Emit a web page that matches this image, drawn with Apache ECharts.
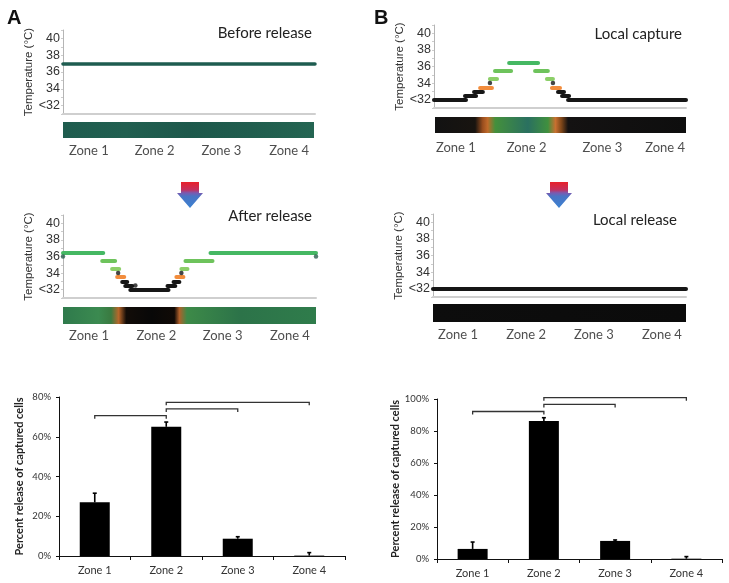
<!DOCTYPE html>
<html><head><meta charset="utf-8">
<script src="https://cdn.jsdelivr.net/npm/echarts@6/dist/echarts.min.js"></script>
<style>html,body{margin:0;padding:0;background:#fff}#c{width:729px;height:583px}</style>
</head><body><div id="c"></div>
<script>
// ---------- data ----------
const zones = ['Zone 1', 'Zone 2', 'Zone 3', 'Zone 4'];
// temperature steps: [xStart, xEnd, temperature °C, colour key]; x = % of channel length
const stepsBefore = [[0, 100, 37, 'teal']];
const stepsAfter = [
  [0, 15.9, 36.5, 'g3'], [15.5, 20.6, 35.5, 'g2'], [19.4, 22.2, 34.5, 'g1'], [21.4, 24.2, 33.5, 'o'],
  [23.4, 25.4, 33, 'k'], [24.6, 27.4, 32.5, 'k'], [26.6, 41.7, 32, 'k'], [41.3, 44.4, 32.5, 'k'],
  [43.7, 46.0, 33, 'k'], [44.8, 47.6, 33.5, 'o'], [46.8, 49.2, 34.5, 'g1'], [48.4, 59.1, 35.5, 'g2'],
  [58.3, 100, 36.5, 'g3']
];
const dotsAfter = [[0, 36, 'd'], [21.8, 34, 'k'], [28.6, 32.5, 'k'], [46.8, 34, 'k'], [100, 36, 'd']];
const stepsCapture = [
  [0, 12.7, 32, 'k'], [12.3, 16.7, 32.5, 'k'], [15.9, 19.4, 33, 'k'], [18.3, 23.0, 33.5, 'o'],
  [22.2, 25.0, 34.5, 'g1'], [24.2, 30.6, 35.5, 'g2'], [29.8, 41.3, 36.5, 'g3'], [40.1, 45.2, 35.5, 'g2'],
  [44.8, 47.2, 34.5, 'g1'], [46.8, 50.0, 33.5, 'o'], [49.2, 51.6, 33, 'k'], [50.8, 53.6, 32.5, 'k'],
  [53.2, 100, 32, 'k']
];
const dotsCapture = [[22.2, 34, 'k'], [47.2, 34, 'k']];
const stepsLocalRelease = [[0, 100, 32, 'k']];
// zone label positions along channel (% of length)
const zonePosBefore = [10.3, 36.5, 63.1, 90.1];
const zonePosAfter = [10.3, 36.9, 63.1, 89.7];
const zonePosCapture = [8.3, 36.5, 66.7, 91.7];
const zonePosLocalRelease = [9.9, 36.8, 63.6, 90.5];
// fluorescence strip colour stops: [position %, colour]
const stripBefore = [[0, '#1f5c4e'], [25, '#215f50'], [50, '#1d584b'], [75, '#205d4e'], [100, '#246552']];
const stripAfter = [[0, '#2f7a4c'], [14, '#3b8a50'], [19, '#3a7a40'], [22, '#b8662a'], [25, '#120c08'],
  [35, '#080808'], [44, '#100a06'], [46, '#b0602a'], [49, '#3d8a48'], [70, '#2c7349'], [100, '#2f7c4b']];
const stripCapture = [[0, '#121212'], [16, '#181410'], [19, '#9a4e1e'], [21, '#c06a2a'], [24, '#44903c'],
  [37, '#2a7060'], [45, '#40903e'], [48, '#c87030'], [50.5, '#7a4418'], [53, '#141212'], [100, '#0e0e0e']];
const stripLocalRelease = [[0, '#0d0d0d'], [100, '#0b0b0b']];
// bar charts: percent release of captured cells
const releaseA = [27.0, 65.0, 8.7, 0.2];
const errA = [4.6, 2.4, 1.0, 1.5];
const releaseB = [6.3, 86.2, 11.3, 0.2];
const errB = [4.3, 2.1, 0.6, 1.3];
// significance brackets: [fromZoneIdx, toZoneIdx, height %]
const bracketsA = [[0, 1, 70.6], [1, 2, 74.0], [1, 3, 77.3]];
const bracketsB = [[0, 1, 92.2], [1, 2, 96.6], [1, 3, 100.8]];

// ---------- styles ----------
const COL = { teal: '#1e5c50', k: '#161616', o: '#f28c3c', g1: '#8ccf68', g2: '#6ec35c', g3: '#45b863', d: '#2b5d4d' };
const SANS = 'Liberation Sans';
const LATO = 'Lato';

const tempGrids = [
  { left: 63, top: 30, width: 252, height: 84 },   // A before
  { left: 63, top: 215, width: 253, height: 83 },  // A after
  { left: 434, top: 25, width: 252, height: 83 },  // B capture
  { left: 433, top: 214, width: 253, height: 83 }  // B local release
];
const stripGrids = [
  { left: 63, top: 122, width: 251, height: 16 },
  { left: 63, top: 307, width: 253, height: 17 },
  { left: 435, top: 117, width: 251, height: 16 },
  { left: 433, top: 304, width: 253, height: 18 }
];
const barGrids = [
  { left: 59, top: 397, width: 286, height: 159 },
  { left: 437, top: 399, width: 285, height: 160 }
];
const nameGaps = [23, 23, 24, 25];
const zoneLabelOffsets = [-0.81, -0.72, -0.92, -0.72];

const grids = [], xAxes = [], yAxes = [], series = [];
const allSteps = [stepsBefore, stepsAfter, stepsCapture, stepsLocalRelease];
const allDots = [[], dotsAfter, dotsCapture, []];
const allZonePos = [zonePosBefore, zonePosAfter, zonePosCapture, zonePosLocalRelease];
const allStrips = [stripBefore, stripAfter, stripCapture, stripLocalRelease];

for (let i = 0; i < 4; i++) {
  // temperature plot
  const gi = grids.length;
  grids.push(tempGrids[i]);
  xAxes.push({ gridIndex: gi, type: 'value', min: 0, max: 100,
    axisLine: { show: true, onZero: false, lineStyle: { color: '#cfcfcf', width: 2 } },
    axisTick: { show: false }, axisLabel: { show: false }, splitLine: { show: false } });
  yAxes.push({ gridIndex: gi, type: 'value', min: 31, max: 41, interval: 1,
    name: 'Temperature (°C)', nameLocation: 'middle', nameGap: nameGaps[i],
    nameTextStyle: { fontFamily: SANS, fontSize: 11.5, color: '#333' },
    axisLine: { show: true, lineStyle: { color: '#b5b5b5', width: 1 } },
    axisTick: { show: true, length: 2, lineStyle: { color: '#cccccc' } },
    axisLabel: { margin: 3, fontFamily: SANS, fontSize: 12.5, color: '#333',
      formatter: v => v === 32 ? '<32' : ((v % 2 === 0 && v > 32 && v <= 40) ? String(v) : '') },
    splitLine: { show: false } });
  series.push({ type: 'lines', coordinateSystem: 'cartesian2d', xAxisIndex: gi, yAxisIndex: gi,
    silent: true, z: 3,
    lineStyle: { width: i === 0 ? 3.5 : 4, opacity: 1, cap: 'round' },
    data: allSteps[i].map(s => ({ coords: [[s[0], s[2]], [s[1], s[2]]], lineStyle: { color: COL[s[3]] } })) });
  if (allDots[i].length) {
    series.push({ type: 'scatter', xAxisIndex: gi, yAxisIndex: gi, symbolSize: 4.5, clip: false, z: 4, silent: true,
      data: allDots[i].map(d => ({ value: [d[0], d[1]], itemStyle: { color: COL[d[2]] } })) });
  }
  // colour strip
  const si = grids.length;
  grids.push(stripGrids[i]);
  xAxes.push({ gridIndex: si, type: 'value', min: 0, max: 100, show: false });
  yAxes.push({ gridIndex: si, type: 'value', min: 0, max: 1, show: false });
  const stops = allStrips[i].map(s => ({ offset: s[0] / 100, color: s[1] }));
  series.push({ type: 'custom', xAxisIndex: si, yAxisIndex: si, silent: true, clip: false,
    data: [[0, 0]],
    renderItem: (params, api) => {
      const p0 = api.coord([0, 1]), p1 = api.coord([100, 0]);
      return { type: 'rect', shape: { x: p0[0], y: p0[1], width: p1[0] - p0[0], height: p1[1] - p0[1] },
        style: { fill: { type: 'linear', x: 0, y: 0, x2: 1, y2: 0, colorStops: stops } } };
    } });
  series.push({ type: 'scatter', xAxisIndex: si, yAxisIndex: si, symbolSize: 1, clip: false, silent: true,
    itemStyle: { color: 'rgba(0,0,0,0)' },
    label: { show: true, position: 'inside', formatter: '{b}', fontFamily: LATO, fontSize: 13, color: '#222' },
    data: allZonePos[i].map((u, k) => ({ name: zones[k], value: [u, zoneLabelOffsets[i]] })) });
}

const barSets = [
  { vals: releaseA, errs: errA, br: bracketsA, max: 80 },
  { vals: releaseB, errs: errB, br: bracketsB, max: 100 }
];
const barNameGaps = [34, 35];
barSets.forEach((b, j) => {
  const gi = grids.length;
  grids.push(barGrids[j]);
  xAxes.push({ gridIndex: gi, type: 'category', data: zones,
    axisLine: { show: true, lineStyle: { color: '#111', width: 1 } },
    axisTick: { show: true, length: 4, lineStyle: { color: '#111' } },
    axisLabel: { margin: 9, fontFamily: LATO, fontSize: 11, color: '#333' } });
  yAxes.push({ gridIndex: gi, type: 'value', min: 0, max: b.max, interval: 20,
    name: 'Percent release of captured cells', nameLocation: 'middle', nameGap: barNameGaps[j],
    nameTextStyle: { fontFamily: LATO, fontSize: 11, fontWeight: 'bold', color: '#222' },
    axisLine: { show: true, lineStyle: { color: '#111', width: 1 } },
    axisTick: { show: true, length: 3, lineStyle: { color: '#111' } },
    axisLabel: { margin: 8, fontFamily: LATO, fontSize: 9.5, color: '#333', formatter: '{value}%' },
    splitLine: { show: false } });
  series.push({ type: 'bar', xAxisIndex: gi, yAxisIndex: gi, data: b.vals, barWidth: 30,
    itemStyle: { color: '#000' }, silent: true });
  series.push({ type: 'custom', xAxisIndex: gi, yAxisIndex: gi, silent: true, clip: false, z: 5,
    data: b.vals.map((v, k) => [k, v, b.errs[k]]),
    renderItem: (params, api) => {
      const x = api.value(0), v = api.value(1), e = api.value(2);
      const p0 = api.coord([x, v]), p1 = api.coord([x, v + e]);
      const st = { stroke: '#000', lineWidth: 1.6 };
      return { type: 'group', children: [
        { type: 'line', shape: { x1: p0[0], y1: p0[1], x2: p1[0], y2: p1[1] }, style: st },
        { type: 'line', shape: { x1: p1[0] - 2, y1: p1[1], x2: p1[0] + 2, y2: p1[1] }, style: st }
      ] };
    } });
  series.push({ type: 'custom', xAxisIndex: gi, yAxisIndex: gi, silent: true, clip: false, z: 5,
    encode: { x: 0, y: 2 },
    data: b.br,
    renderItem: (params, api) => {
      const c0 = api.value(0), c1 = api.value(1), h = api.value(2);
      const p0 = api.coord([c0, h]), p1 = api.coord([c1, h]);
      return { type: 'polyline',
        shape: { points: [[p0[0], p0[1] + 3], [p0[0], p0[1]], [p1[0], p1[1]], [p1[0], p1[1] + 3]] },
        style: { stroke: '#333', lineWidth: 1.3, fill: null } };
    } });
});

const arrowFill = { type: 'linear', x: 0, y: 0, x2: 0, y2: 1, colorStops: [
  { offset: 0, color: '#e8202a' }, { offset: 0.3, color: '#c4305e' }, { offset: 0.42, color: '#7a5ab0' },
  { offset: 0.55, color: '#4a74c4' }, { offset: 1, color: '#3b82d2' }] };
function arrow(cx) {
  return { type: 'polygon', silent: true,
    shape: { points: [[cx - 9, 182], [cx + 9, 182], [cx + 9, 193], [cx + 13, 193], [cx, 208], [cx - 13, 193], [cx - 9, 193]] },
    style: { fill: arrowFill } };
}

const titles = [
  { text: 'A', left: 7, top: 8, textStyle: { fontFamily: SANS, fontSize: 20, fontWeight: 'bold', color: '#111' } },
  { text: 'B', left: 374, top: 8, textStyle: { fontFamily: SANS, fontSize: 20, fontWeight: 'bold', color: '#111' } },
  { text: 'Before release', right: 729 - 312, top: 26, textStyle: { fontFamily: LATO, fontSize: 15, fontWeight: 'normal', color: '#222' } },
  { text: 'After release', right: 729 - 312, top: 209, textStyle: { fontFamily: LATO, fontSize: 15, fontWeight: 'normal', color: '#222' } },
  { text: 'Local capture', right: 729 - 682, top: 27, textStyle: { fontFamily: LATO, fontSize: 15, fontWeight: 'normal', color: '#222' } },
  { text: 'Local release', right: 729 - 677, top: 213, textStyle: { fontFamily: LATO, fontSize: 15, fontWeight: 'normal', color: '#222' } }
].map(t => Object.assign({ padding: 0 }, t));

const chart = echarts.init(document.getElementById('c'), null, { renderer: 'canvas' });
chart.setOption({
  animation: false,
  backgroundColor: '#fff',
  title: titles,
  grid: grids,
  xAxis: xAxes,
  yAxis: yAxes,
  series: series,
  graphic: [arrow(190), arrow(559)]
});
</script></body></html>
